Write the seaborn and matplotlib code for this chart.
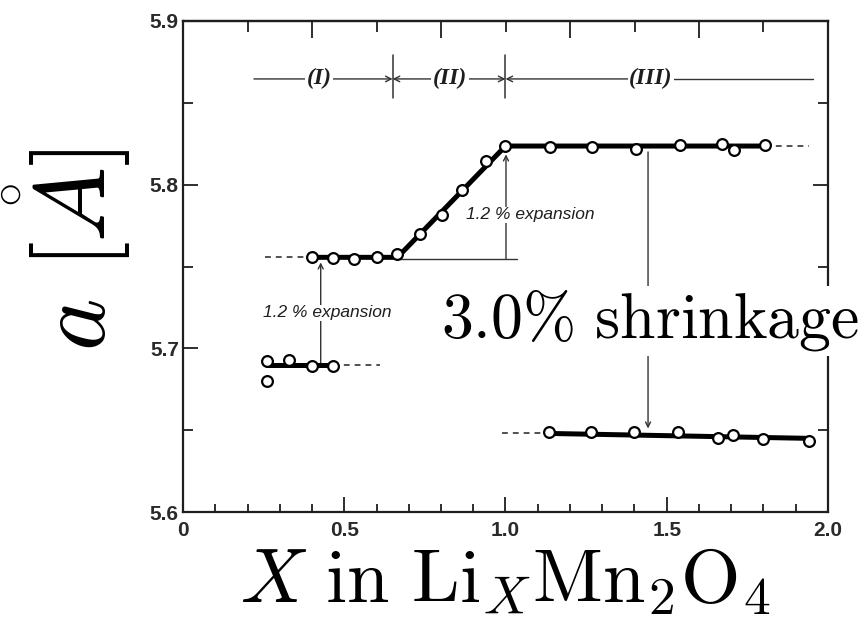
import matplotlib
matplotlib.use("Agg")
import matplotlib.pyplot as plt
import seaborn as sns
from matplotlib.ticker import MultipleLocator, FixedLocator, FixedFormatter

# Lattice parameter a (Å) of Li_X Mn2O4 against lithium content X
x_phase1 = [0.26, 0.33, 0.40, 0.465]
a_phase1 = [5.692, 5.693, 5.689, 5.689]
x_phase1_low = [0.26]
a_phase1_low = [5.680]
x_phase1b = [0.40, 0.465, 0.53, 0.60, 0.665]
a_phase1b = [5.7556, 5.7551, 5.7545, 5.7556, 5.7576]
x_phase2 = [0.735, 0.802, 0.866, 0.939]
a_phase2 = [5.770, 5.7815, 5.797, 5.8147]
x_cubic = [1.0, 1.137, 1.267, 1.405, 1.54, 1.67, 1.71, 1.805]
a_cubic = [5.8236, 5.823, 5.823, 5.822, 5.824, 5.825, 5.821, 5.824]
x_tetra = [1.135, 1.265, 1.40, 1.535, 1.66, 1.705, 1.80, 1.94]
a_tetra = [5.6487, 5.6487, 5.6487, 5.6487, 5.6455, 5.647, 5.6444, 5.6436]

# Guide lines through the data
fit1_x, fit1_a = [0.26, 0.465], [5.6896, 5.6896]
fit2_x, fit2_a = [0.40, 0.665, 1.0, 1.805], [5.7556, 5.7556, 5.8236, 5.8236]
fit3_x, fit3_a = [1.135, 1.94], [5.648, 5.645]
ext1_x, ext1_a = [0.465, 0.61], [5.6896, 5.6896]
ext2_x, ext2_a = [0.255, 0.40], [5.7556, 5.7556]
ext3_x, ext3_a = [1.805, 1.94], [5.8236, 5.8236]
ext4_x, ext4_a = [0.99, 1.135], [5.648, 5.648]

x_ticks = [0, 0.5, 1.0, 1.5, 2.0]
x_tick_labels = ["0", "0.5", "1.0", "1.5", "2.0"]
y_ticks = [5.6, 5.7, 5.8, 5.9]
y_tick_labels = ["5.6", "5.7", "5.8", "5.9"]

region_bounds = [0.65, 1.0]
region_names = ["(I)", "(II)", "(III)"]
region_label_x = [0.422, 0.828, 1.451]

sns.set_theme(style="ticks")
plt.rcParams["mathtext.fontset"] = "cm"
plt.rcParams["font.family"] = ["DejaVu Sans"]

fig = plt.figure(figsize=(8.62, 6.2), dpi=100)
ax = fig.add_axes([183 / 862, 1 - 512 / 620, 645 / 862, 491 / 620])

ink = "#1e1e1e"
thin = "#333333"

# thick guide lines
for xs, ys in [(fit1_x, fit1_a), (fit2_x, fit2_a), (fit3_x, fit3_a)]:
    sns.lineplot(x=xs, y=ys, ax=ax, color="black", lw=3.6, sort=False,
                 estimator=None, zorder=3)
# dashed extrapolations
for xs, ys in [(ext1_x, ext1_a), (ext2_x, ext2_a), (ext3_x, ext3_a), (ext4_x, ext4_a)]:
    ax.plot(xs, ys, color=thin, lw=1.2, ls=(0, (3.5, 3)), zorder=2)

# measured points
marker_kw = dict(s=60, facecolor="white", edgecolor="black", linewidth=1.6,
                 zorder=5, ax=ax, legend=False)
for xs, ys in [(x_phase1, a_phase1), (x_phase1_low, a_phase1_low),
               (x_phase1b, a_phase1b), (x_phase2, a_phase2),
               (x_cubic, a_cubic), (x_tetra, a_tetra)]:
    sns.scatterplot(x=xs, y=ys, **marker_kw)

# region markers along the top
y_reg = 5.8646
arrow_kw = dict(arrowstyle="->", color=thin, lw=1.0, shrinkA=0, shrinkB=0,
                mutation_scale=10)
ax.annotate("", xy=(region_bounds[0], y_reg), xytext=(0.22, y_reg), arrowprops=arrow_kw)
ax.annotate("", xy=(region_bounds[0], y_reg), xytext=(0.83, y_reg), arrowprops=arrow_kw)
ax.annotate("", xy=(region_bounds[1], y_reg), xytext=(0.83, y_reg), arrowprops=arrow_kw)
ax.annotate("", xy=(region_bounds[1], y_reg), xytext=(1.45, y_reg), arrowprops=arrow_kw)
ax.plot([1.45, 1.955], [y_reg, y_reg], color=thin, lw=1.0)
for b in region_bounds:
    ax.plot([b, b], [5.853, 5.8792], color=thin, lw=1.1)
for name, xr in zip(region_names, region_label_x):
    ax.text(xr, y_reg, name, ha="center", va="center", fontsize=17,
            family="Liberation Serif", style="italic", weight="bold", color=ink,
            bbox=dict(facecolor="white", edgecolor="none", pad=1.0), zorder=4)

# expansion between phases I and I'
ax.annotate("", xy=(0.427, 5.7525), xytext=(0.427, 5.690),
            arrowprops=dict(arrowstyle="->", color=thin, lw=1.0, shrinkA=0,
                            shrinkB=0, mutation_scale=9), zorder=2)
ax.text(0.4465, 5.7216, "1.2 % expansion", ha="center", va="center",
        fontsize=12.5, family="Liberation Sans", style="italic", color=ink,
        bbox=dict(facecolor="white", edgecolor="none", pad=0.5), zorder=4)

# expansion across region II
ax.plot([0.665, 1.036], [5.7546, 5.7546], color=thin, lw=1.0, zorder=2)
ax.annotate("", xy=(1.0015, 5.8185), xytext=(1.0015, 5.7546),
            arrowprops=dict(arrowstyle="->", color=thin, lw=1.0, shrinkA=0,
                            shrinkB=0, mutation_scale=9), zorder=2)
ax.text(1.076, 5.7815, "1.2 % expansion", ha="center", va="center",
        fontsize=12.5, family="Liberation Sans", style="italic", color=ink,
        bbox=dict(facecolor="white", edgecolor="none", pad=0.5), zorder=4)

# shrinkage on transformation to the tetragonal phase
ax.annotate("", xy=(1.442, 5.651), xytext=(1.442, 5.820),
            arrowprops=dict(arrowstyle="->", color=thin, lw=1.0, shrinkA=0,
                            shrinkB=0, mutation_scale=9), zorder=2)
ax.text(1.448, 5.7064, r"$\mathrm{3.0\%\ shrinkage}$", ha="center", va="baseline",
        fontsize=46, color="black", clip_on=False,
        bbox=dict(facecolor="white", edgecolor="none", pad=2), zorder=6)

# axes, ticks
ax.set_xlim(0, 2.0)
ax.set_ylim(5.6, 5.9)
ax.xaxis.set_major_locator(FixedLocator(x_ticks))
ax.xaxis.set_major_formatter(FixedFormatter(x_tick_labels))
ax.xaxis.set_minor_locator(MultipleLocator(0.1))
ax.yaxis.set_major_locator(FixedLocator(y_ticks))
ax.yaxis.set_major_formatter(FixedFormatter(y_tick_labels))
ax.yaxis.set_minor_locator(MultipleLocator(0.05))
ax.tick_params(which="both", direction="in", color=ink, width=1.3,
               left=True, right=True, bottom=True, top=False)
ax.tick_params(axis="x", which="major", length=11, pad=6.5)
ax.tick_params(axis="x", which="minor", length=6)
ax.tick_params(axis="y", which="major", length=11, pad=3)
ax.tick_params(axis="y", which="minor", length=7)
for lab in ax.get_xticklabels() + ax.get_yticklabels():
    lab.set_fontfamily("Liberation Sans")
    lab.set_fontweight("bold")
    lab.set_fontsize(15)
    lab.set_color("#2a2a2a")

top = ax.secondary_xaxis("top")
top.xaxis.set_major_locator(MultipleLocator(0.4))
top.xaxis.set_minor_locator(MultipleLocator(0.2))
top.tick_params(which="both", direction="in", color=ink, width=1.3, labeltop=False)
top.tick_params(which="major", length=12)
top.tick_params(which="minor", length=8)
top.spines["top"].set_linewidth(1.6)
top.spines["top"].set_color(ink)

for sp in ax.spines.values():
    sp.set_linewidth(1.6)
    sp.set_color(ink)

ax.set_xlabel(r"$X\ \mathrm{in\ Li}_X\mathrm{Mn}_2\mathrm{O}_4$", fontsize=55,
              color="black", va="baseline")
ax.xaxis.set_label_coords(0.5, (512 - 602) / 491)
ax.set_ylabel(r"$a\ [\mathring{A}]$", fontsize=72, color="black")
ax.yaxis.label.set(ha="center", va="center", rotation_mode="anchor")
ax.yaxis.set_label_coords((67 - 183) / 645, (512 - 250) / 491)

fig.savefig("out.png", dpi=100)
